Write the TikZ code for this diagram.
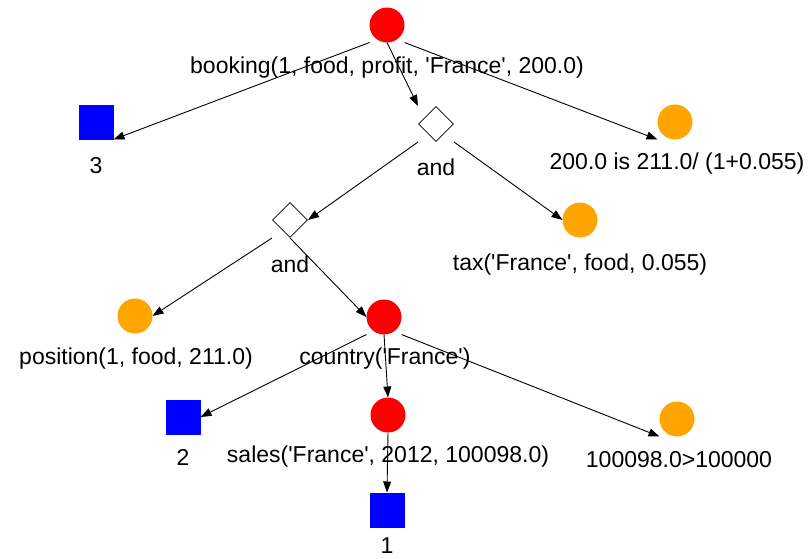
\documentclass[tikz,border=0pt]{standalone}
\usepackage{fontspec}
\setmainfont{Liberation Sans}
\usetikzlibrary{arrows.meta}

\definecolor{goalred}{RGB}{255,0,0}
\definecolor{factorange}{RGB}{255,165,0}
\definecolor{leafblue}{RGB}{0,0,255}

\newcommand{\q}{\textquotesingle}

\tikzset{
  shapebox/.style={rectangle, minimum size=35pt, inner sep=0pt, outer sep=0pt},
  redball/.style={shapebox, path picture={\fill[goalred] (path picture bounding box.center) circle (17.5pt);}},
  orangeball/.style={shapebox, path picture={\fill[factorange] (path picture bounding box.center) circle (17.5pt);}},
  bluesquare/.style={shapebox, fill=leafblue},
  andgate/.style={shapebox, minimum size=36pt, path picture={
      \draw[line width=0.8pt]
        ([yshift=-0.6pt]path picture bounding box.north) --
        ([xshift=-0.6pt]path picture bounding box.east) --
        ([yshift=0.6pt]path picture bounding box.south) --
        ([xshift=0.6pt]path picture bounding box.west) -- cycle;}},
  tag/.style={anchor=base, inner sep=0pt, font=\fontsize{23pt}{27pt}\selectfont},
  link/.style={draw=black, line width=0.9pt, -{Triangle[length=11pt,width=8pt]}},
}

\begin{document}
\begin{tikzpicture}[x=1pt, y=-1pt]
  \useasboundingbox (0,0) rectangle (809,558);

  % shapes
  \node[redball]    (root)  at (387,25)  {};
  \node[bluesquare] (sq3)   at (96,122)  {};
  \node[andgate]    (and1)  at (436,124) {};
  \node[orangeball] (calc)  at (675,122) {};
  \node[andgate]    (and2)  at (290,220) {};
  \node[orangeball] (tax)   at (580,220) {};
  \node[orangeball] (pos)   at (135,316) {};
  \node[redball]    (ctry)  at (384,317) {};
  \node[bluesquare] (sq2)   at (183,417) {};
  \node[redball]    (sales) at (388,415) {};
  \node[orangeball] (cmp)   at (677,419) {};
  \node[bluesquare] (sq1)   at (387,510) {};

  % labels
  \node[tag] (root-l)  at (387,73)  {booking(1, food, profit, \q France\q, 200.0)};
  \node[tag] (sq3-l)   at (96,173)  {3};
  \node[tag] (and1-l)  at (436,175) {and};
  \node[tag] (calc-l)  at (677,169) {200.0 is 211.0/ (1+0.055)};
  \node[tag] (and2-l)  at (290,272) {and};
  \node[tag] (tax-l)   at (580,270) {tax(\q France\q, food, 0.055)};
  \node[tag] (pos-l)   at (136,364) {position(1, food, 211.0)};
  \node[tag] (ctry-l)  at (385,364) {country(\q France\q)};
  \node[tag] (sq2-l)   at (183,465) {2};
  \node[tag] (sales-l) at (388,462) {sales(\q France\q, 2012, 100098.0)};
  \node[tag] (cmp-l)   at (679,467) {100098.0>100000};
  \node[tag] (sq1-l)   at (387,553) {1};

  % connectors
  \draw[link] (root.south west) -- (sq3.south east);
  \draw[link] (root.south) -- (and1.north west);
  \draw[link] (root.south east) -- (calc.south west);
  \draw[link] (and1.south west) -- (and2.east);
  \draw[link] (and1.south east) -- (tax.west);
  \draw[link] (and2.south west) -- (pos.east);
  \draw[link] (and2.south) -- (ctry.west);
  \draw[link] (ctry.south west) -- (sq2.east);
  \draw[link] (ctry.south) -- (sales.north);
  \draw[link] (ctry.south east) -- (cmp.south west);
  \draw[link] (sales.south) -- (sq1.north);
\end{tikzpicture}
\end{document}
